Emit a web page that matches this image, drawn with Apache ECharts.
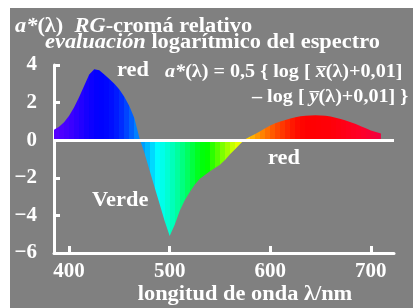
<!DOCTYPE html>
<html>
<head>
<meta charset="utf-8">
<script src="https://cdn.jsdelivr.net/npm/echarts@6/dist/echarts.min.js"></script>
<style>
html, body { margin: 0; padding: 0; background: #fff; }
#chart { width: 413px; height: 308px; }
</style>
</head>
<body>
<div id="chart"></div>
<script>
// wavelength (nm) and a*(lambda)
var wavelengths = [385, 390, 395, 400, 405, 410, 415, 420, 425, 430, 435, 440, 445, 450, 455, 460, 465, 470,
	475, 480, 485, 490, 495, 500, 505, 510, 515, 520, 525, 530, 535, 540, 545, 550, 555, 560, 565, 570,
	575, 580, 585, 590, 595, 600, 605, 610, 615, 620, 625, 630, 635, 640, 645, 650, 655, 660, 665, 670,
	675, 680, 685, 690, 695, 700, 705, 710];
var aValues = [0.55, 0.72, 0.95, 1.3, 1.75, 2.3, 2.9, 3.5, 3.78, 3.72, 3.5, 3.25, 3.0, 2.7, 2.3, 1.8, 1.15, 0.1,
	-0.7, -1.6, -2.5, -3.4, -4.3, -5.1, -4.5, -3.75, -3.2, -2.75, -2.35, -2.05, -1.85, -1.65, -1.48, -1.3, -1.05, -0.75, -0.48, -0.2,
	0.05, 0.2, 0.33, 0.48, 0.63, 0.78, 0.9, 1.0, 1.08, 1.16, 1.22, 1.27, 1.3, 1.32, 1.33, 1.32, 1.3, 1.26, 1.2, 1.13,
	1.05, 0.96, 0.86, 0.74, 0.63, 0.52, 0.43, 0.35];
var xTickValues = [400, 500, 600, 700];
var yMin = -6, yMax = 4, yStep = 2;

var SERIF = '"Liberation Serif", "Times New Roman", serif';
var WHITE = '#ffffff';
var STRETCH = 1.12;   // the reference lettering is a bit wider than plain Times
var STRETCH_F = 1.06; // formula lines

// colour anchors of the spectrum bands
var spectrum = [
	[385, '#5a00ff'], [400, '#4000ff'], [410, '#2800ff'], [420, '#1000ff'], [430, '#0000ff'],
	[440, '#0008ff'], [450, '#0020ff'], [460, '#0050ff'], [465, '#0070ff'], [470, '#0090ff'],
	[480, '#00c8ff'], [488, '#00ffff'], [500, '#00ffc8'], [510, '#00ff90'], [520, '#00ff50'],
	[530, '#00ff10'], [537, '#00ff00'], [545, '#40ff00'], [555, '#90ff00'], [565, '#d8ff00'],
	[572, '#ffff00'], [578, '#ffc800'], [585, '#ffa000'], [595, '#ff7800'], [605, '#ff5000'],
	[615, '#ff3000'], [625, '#ff1000'], [635, '#ff0000'], [660, '#ff0008'], [690, '#ff0028'],
	[710, '#f00040']
];

function hexToRgb(h) {
	return [parseInt(h.substr(1, 2), 16), parseInt(h.substr(3, 2), 16), parseInt(h.substr(5, 2), 16)];
}

function bandColor(l) {
	for (var i = 0; i < spectrum.length - 1; i++) {
		var a = spectrum[i], b = spectrum[i + 1];
		if (l >= a[0] && l <= b[0]) {
			var t = (l - a[0]) / (b[0] - a[0]);
			var ca = hexToRgb(a[1]), cb = hexToRgb(b[1]);
			var c = [0, 1, 2].map(function (k) { return Math.round(ca[k] + (cb[k] - ca[k]) * t); });
			return 'rgb(' + c.join(',') + ')';
		}
	}
	return spectrum[spectrum.length - 1][1];
}

// hard-edged 5 nm bands along the area
function buildGradient() {
	var first = wavelengths[0], last = wavelengths[wavelengths.length - 1];
	var span = last - first;
	var stops = [];
	for (var l = first; l < last; l += 5) {
		var c = bandColor(l + 2.5);
		stops.push({ offset: (l - first) / span, color: c });
		stops.push({ offset: Math.min(1, (l + 5 - first) / span), color: c });
	}
	return new echarts.graphic.LinearGradient(0, 0, 1, 0, stops);
}

var seriesData = wavelengths.map(function (l, i) { return [l, aValues[i]]; });

var measureCtx = document.createElement('canvas').getContext('2d');

function fontOf(size, italic) {
	return (italic ? 'italic ' : '') + 'bold ' + size + 'px ' + SERIF;
}

function txt(x, y, text, size, italic, align, stretch) {
	return {
		type: 'text', x: x, y: y, scaleX: stretch || STRETCH, silent: true,
		style: {
			text: text, fill: WHITE, align: align || 'left', verticalAlign: 'bottom',
			font: fontOf(size, italic)
		}
	};
}

// a line of mixed upright / italic pieces: parts = [[text, italic], ...]
function segs(x, y, size, parts, stretch) {
	var out = [];
	stretch = stretch || STRETCH;
	parts.forEach(function (p) {
		out.push(txt(x, y, p[0], size, p[1], 'left', stretch));
		measureCtx.font = fontOf(size, p[1]);
		x += measureCtx.measureText(p[0]).width * stretch;
	});
	return out;
}

var labels = [].concat(
	segs(15, 37, 20, [['a*', true], ['(λ)  ', false], ['RG', true], ['-cromá relativo', false]]),
	segs(45, 53, 20, [['evaluación', true], [' logarítmico del espectro', false]]),
	[txt(117, 81, 'red', 20)],
	segs(165, 82, 19, [['a*', true], ['(λ) = 0,5 { log [ ', false], ['x\u0305', true], ['(λ)+0,01]', false]], STRETCH_F),
	segs(252, 107, 19, [['\u2013 log [ ', false], ['y\u0305', true], ['(λ)+0,01] }', false]], STRETCH_F),
	[txt(92, 211, 'Verde', 20), txt(268, 169, 'red', 20), txt(245, 305, 'longitud de onda λ/nm', 20, false, 'center')]
);

var myChart = echarts.init(document.getElementById('chart'));

var chartOption = {
	backgroundColor: '#ffffff',
	animation: false,
	grid: { left: 54, right: 19, top: 65, bottom: 55 },
	xAxis: {
		type: 'value', min: 385, max: 723,
		axisLine: { onZero: false, lineStyle: { color: WHITE, width: 3 } },
		axisTick: { inside: true, length: 7, customValues: xTickValues, lineStyle: { color: WHITE, width: 3 } },
		axisLabel: { customValues: xTickValues, color: WHITE, fontFamily: SERIF, fontWeight: 'bold', fontSize: 21, margin: 8 },
		splitLine: { show: false }
	},
	yAxis: {
		type: 'value', min: yMin, max: yMax, interval: yStep,
		axisLine: { show: true, lineStyle: { color: WHITE, width: 3 } },
		axisTick: { show: true, inside: true, length: 6, lineStyle: { color: WHITE, width: 3 } },
		axisLabel: {
			color: WHITE, fontFamily: SERIF, fontWeight: 'bold', fontSize: 21, margin: 17,
			formatter: function (v) { return String(v).replace('-', '\u2212'); }
		},
		splitLine: { show: false }
	},
	graphic: [
		{ type: 'rect', z: -10, silent: true, shape: { x: 10, y: 8, width: 403, height: 300 }, style: { fill: '#808080' } }
	].concat(labels),
	series: [
		{
			type: 'line',
			data: seriesData,
			showSymbol: false,
			silent: true,
			lineStyle: { width: 0 },
			areaStyle: { color: buildGradient(), opacity: 1 },
			markLine: {
				silent: true, symbol: 'none', label: { show: false },
				lineStyle: { color: WHITE, width: 3, type: 'solid' },
				data: [{ yAxis: 0 }]
			}
		}
	]
};

myChart.setOption(chartOption);
</script>
</body>
</html>
